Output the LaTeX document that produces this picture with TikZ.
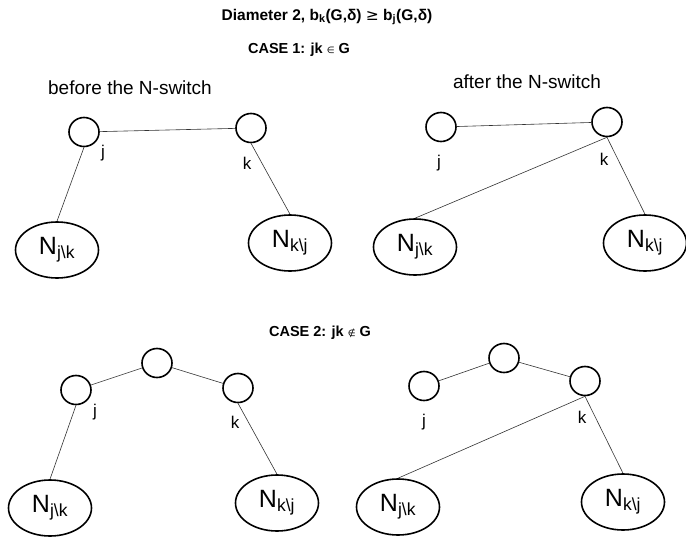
\documentclass[tikz,border=0pt]{standalone}
\usepackage{fontspec}
\setmainfont{Liberation Sans}
\newfontfamily\symfont{DejaVu Sans}
\usetikzlibrary{shapes,positioning}

\begin{document}
\begin{tikzpicture}[x=1pt,y=-1pt,
    vtx/.style={draw,ellipse,line width=1.6pt,minimum width=30pt,minimum height=29pt,inner sep=0pt},
    grp/.style={draw,ellipse,line width=1.6pt,minimum width=83pt,minimum height=56pt,inner sep=0pt,font=\fontsize{25}{28}\selectfont},
    lbl/.style={font=\fontsize{17}{19}\selectfont},
    hdr/.style={font=\fontsize{14.5}{16}\selectfont\bfseries},
    edge/.style={line width=0.6pt,black!80}]
    \useasboundingbox (0,0) rectangle (686,538);

    % Titles
    \node[font=\fontsize{15.5}{17}\selectfont\bfseries] (title) at (327,17) {Diameter 2, b\textsubscript{k}(G,δ) {\mdseries\symfont ≥} b\textsubscript{j}(G,δ)};
    \node[hdr] (case1) at (299,50) {CASE 1: jk {\mdseries\symfont\small ∈} G};
    \node[hdr] (case2) at (320,333) {CASE 2: jk {\mdseries\symfont\small ∉} G};
    \node[font=\fontsize{19}{21}\selectfont] (before) at (130,88) {before the N-switch};
    \node[font=\fontsize{19}{21}\selectfont] (after) at (527,82) {after the N-switch};

    % Case 1, before
    \node[vtx] (j1) at (84,132) {};
    \node[vtx] (k1) at (251,128) {};
    \node[grp] (Njk1) at (57,250) {N\textsubscript{j\textbackslash k}};
    \node[grp] (Nkj1) at (290,243) {N\textsubscript{k\textbackslash j}};
    \node[lbl] (lj1) at (103,153) {j};
    \node[lbl] (lk1) at (247,163) {k};
    \draw[edge] (j1) -- (k1);
    \draw[edge] (j1.south) -- (Njk1.north);
    \draw[edge] (k1.south) -- (Nkj1.north);

    % Case 1, after
    \node[vtx] (j2) at (441,127) {};
    \node[vtx] (k2) at (607,122) {};
    \node[grp] (Njk2) at (415,247) {N\textsubscript{j\textbackslash k}};
    \node[grp] (Nkj2) at (645,243) {N\textsubscript{k\textbackslash j}};
    \node[lbl] (lj2) at (439,163) {j};
    \node[lbl] (lk2) at (604,159) {k};
    \draw[edge] (j2) -- (k2);
    \draw[edge] (k2.south) -- (Njk2.north);
    \draw[edge] (k2.south) -- (Nkj2.north);

    % Case 2, before
    \node[vtx] (m3) at (157,363) {};
    \node[vtx] (j3) at (76,390) {};
    \node[vtx] (k3) at (238,388) {};
    \node[grp] (Njk3) at (50,508) {N\textsubscript{j\textbackslash k}};
    \node[grp] (Nkj3) at (277,503) {N\textsubscript{k\textbackslash j}};
    \node[lbl] (lj3) at (95,412) {j};
    \node[lbl] (lk3) at (235,422) {k};
    \draw[edge] (j3) -- (m3);
    \draw[edge] (m3) -- (k3);
    \draw[edge] (j3.south) -- (Njk3.north);
    \draw[edge] (k3.south) -- (Nkj3.north);

    % Case 2, after
    \node[vtx] (m4) at (504,358) {};
    \node[vtx] (j4) at (424,386) {};
    \node[vtx] (k4) at (585,381) {};
    \node[grp] (Njk4) at (398,507) {N\textsubscript{j\textbackslash k}};
    \node[grp] (Nkj4) at (623,502) {N\textsubscript{k\textbackslash j}};
    \node[lbl] (lj4) at (424,422) {j};
    \node[lbl] (lk4) at (582,417) {k};
    \draw[edge] (j4) -- (m4);
    \draw[edge] (m4) -- (k4);
    \draw[edge] (k4.south) -- (Njk4.north);
    \draw[edge] (k4.south) -- (Nkj4.north);
\end{tikzpicture}
\end{document}
